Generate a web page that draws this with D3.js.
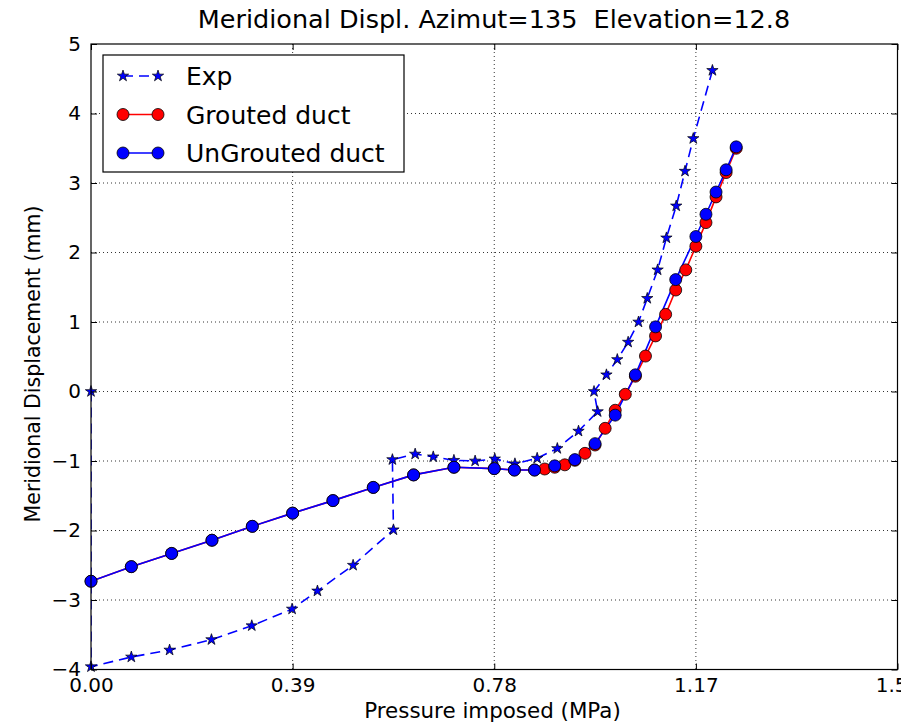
<!DOCTYPE html>
<html lang="en">
<head>
    <meta charset="UTF-8">
    <title>Meridional Displ.</title>
    <script src="https://d3js.org/d3.v7.min.js"></script>
    <style>
        body { margin: 0; background: #fff; }
        svg { display: block; }
        text { font-family: "DejaVu Sans", sans-serif; fill: #000; }
    </style>
</head>
<body>
<svg width="901" height="724"></svg>
<script>
    // experimental curve
    const expX = [0, 0, 0.078, 0.152, 0.233, 0.311, 0.389, 0.438, 0.507, 0.585, 0.583, 0.627, 0.662,
        0.702, 0.743, 0.781, 0.82, 0.863, 0.902, 0.943, 0.98, 0.973, 0.997, 1.018, 1.039, 1.059,
        1.076, 1.096, 1.113, 1.132, 1.149, 1.165, 1.202];
    const expY = [0, -3.96, -3.82, -3.72, -3.57, -3.37, -3.13, -2.87, -2.50, -1.99, -0.98, -0.90, -0.94,
        -0.99, -1.00, -0.97, -1.04, -0.96, -0.82, -0.57, -0.29, 0.00, 0.24, 0.46, 0.71, 1.00,
        1.34, 1.75, 2.21, 2.67, 3.17, 3.64, 4.62];

    // grouted duct model
    const groutX = [0, 0.078, 0.156, 0.234, 0.312, 0.39, 0.468, 0.546, 0.624, 0.702, 0.78, 0.819, 0.858,
        0.8775, 0.897, 0.9165, 0.936, 0.9555, 0.975, 0.9945, 1.014, 1.0335, 1.053, 1.0725, 1.092,
        1.1115, 1.131, 1.1505, 1.17, 1.1895, 1.209, 1.2285, 1.248];
    const groutY = [-2.73, -2.52, -2.33, -2.14, -1.94, -1.75, -1.57, -1.38, -1.20, -1.09, -1.11, -1.13, -1.13,
        -1.115, -1.09, -1.055, -0.99, -0.89, -0.77, -0.53, -0.27, -0.04, 0.22, 0.51, 0.80,
        1.11, 1.46, 1.75, 2.09, 2.43, 2.80, 3.15, 3.50];

    // ungrouted duct model
    const ungroutX = [0, 0.078, 0.156, 0.234, 0.312, 0.39, 0.468, 0.546, 0.624, 0.702, 0.78, 0.819, 0.858,
        0.897, 0.936, 0.975, 1.014, 1.053, 1.092, 1.131, 1.17, 1.1895, 1.209, 1.2285, 1.248];
    const ungroutY = [-2.73, -2.52, -2.33, -2.14, -1.94, -1.75, -1.57, -1.38, -1.20, -1.09, -1.11, -1.13, -1.13,
        -1.07, -0.98, -0.75, -0.34, 0.24, 0.93, 1.61, 2.23, 2.55, 2.87, 3.19, 3.52];

    const xTicks = [0, 0.39, 0.78, 1.17, 1.56];
    const yTicks = [-4, -3, -2, -1, 0, 1, 2, 3, 4, 5];

    const svg = d3.select("svg");
    const mLeft = 91, mRight = 897.5, mTop = 44, mBottom = 669.5;

    const x = d3.scaleLinear().domain([0, 1.56]).range([mLeft, mRight]);
    const y = d3.scaleLinear().domain([-4, 5]).range([mBottom, mTop]);

    svg.append("clipPath").attr("id", "plot")
        .append("rect").attr("x", mLeft).attr("y", mTop)
        .attr("width", mRight - mLeft).attr("height", mBottom - mTop);

    // grid
    const grid = svg.append("g").attr("stroke", "#000").attr("stroke-width", 0.8)
        .attr("stroke-dasharray", "1,3");
    grid.selectAll(".gx").data(xTicks.slice(1, -1)).enter().append("line")
        .attr("x1", d => x(d)).attr("x2", d => x(d)).attr("y1", mTop).attr("y2", mBottom);
    grid.selectAll(".gy").data(yTicks.slice(1, -1)).enter().append("line")
        .attr("y1", d => y(d)).attr("y2", d => y(d)).attr("x1", mLeft).attr("x2", mRight);

    const plot = svg.append("g").attr("clip-path", "url(#plot)");
    const line = d3.line().x(d => x(d[0])).y(d => y(d[1]));

    function drawSeries(xs, ys, color, dash, marker) {
        const pts = xs.map((v, i) => [v, ys[i]]);
        plot.append("path").datum(pts)
            .attr("d", line).attr("fill", "none")
            .attr("stroke", color).attr("stroke-width", 1.6)
            .attr("stroke-dasharray", dash);
        const g = svg.append("g");
        if (marker === "star") {
            g.selectAll("path").data(pts).enter().append("path")
                .attr("d", d3.symbol().type(d3.symbolStar).size(40))
                .attr("transform", d => `translate(${x(d[0])},${y(d[1])})`)
                .attr("fill", color).attr("stroke", "#000").attr("stroke-width", 0.7);
        } else {
            g.selectAll("circle").data(pts).enter().append("circle")
                .attr("cx", d => x(d[0])).attr("cy", d => y(d[1])).attr("r", 6)
                .attr("fill", color).attr("stroke", "#000").attr("stroke-width", 0.8);
        }
    }

    drawSeries(expX, expY, "#0000ff", "10,6", "star");
    drawSeries(groutX, groutY, "#ff0000", null, "circle");
    drawSeries(ungroutX, ungroutY, "#0000ff", null, "circle");

    // frame + ticks (inside, all four sides)
    svg.append("rect").attr("x", mLeft).attr("y", mTop)
        .attr("width", mRight - mLeft).attr("height", mBottom - mTop)
        .attr("fill", "none").attr("stroke", "#000").attr("stroke-width", 1.2);

    const axB = svg.append("g").attr("transform", `translate(0,${mBottom})`)
        .call(d3.axisBottom(x).tickValues(xTicks).tickFormat(d3.format(".2f")).tickSizeInner(-6).tickSizeOuter(0).tickPadding(8));
    const axT = svg.append("g").attr("transform", `translate(0,${mTop})`)
        .call(d3.axisTop(x).tickValues(xTicks).tickFormat("").tickSizeInner(-6).tickSizeOuter(0));
    const axL = svg.append("g").attr("transform", `translate(${mLeft},0)`)
        .call(d3.axisLeft(y).tickValues(yTicks).tickFormat(d => d < 0 ? "\u2212" + Math.abs(d) : d).tickSizeInner(-6).tickSizeOuter(0).tickPadding(10));
    const axR = svg.append("g").attr("transform", `translate(${mRight},0)`)
        .call(d3.axisRight(y).tickValues(yTicks).tickFormat("").tickSizeInner(-6).tickSizeOuter(0));
    [axB, axT, axL, axR].forEach(a => {
        a.select(".domain").remove();
        a.selectAll("line").attr("stroke", "#000");
        a.attr("font-family", null);
        a.selectAll("text").style("font-size", "20px");
    });

    // titles
    svg.append("text").attr("x", 494).attr("y", 28)
        .attr("text-anchor", "middle").style("font-size", "25.5px").style("white-space", "pre")
        .text("Meridional Displ. Azimut=135  Elevation=12.8");
    svg.append("text").attr("x", 492.5).attr("y", 718)
        .attr("text-anchor", "middle").style("font-size", "21.4px")
        .text("Pressure imposed (MPa)");
    svg.append("text").attr("transform", "translate(40,364) rotate(-90)")
        .attr("text-anchor", "middle").style("font-size", "20.5px")
        .text("Meridional Displacement (mm)");

    // legend
    const legend = svg.append("g");
    legend.append("rect").attr("x", 103).attr("y", 55).attr("width", 301).attr("height", 117)
        .attr("fill", "#fff").attr("stroke", "#000").attr("stroke-width", 1.2);
    const entries = [
        { label: "Exp", color: "#0000ff", dash: "10,6", marker: "star" },
        { label: "Grouted duct", color: "#ff0000", dash: null, marker: "circle" },
        { label: "UnGrouted duct", color: "#0000ff", dash: null, marker: "circle" }
    ];
    entries.forEach((e, i) => {
        const cy = 76 + i * 38.5;
        legend.append("line").attr("x1", 123).attr("x2", 158).attr("y1", cy).attr("y2", cy)
            .attr("stroke", e.color).attr("stroke-width", 1.6).attr("stroke-dasharray", e.dash);
        [123, 158].forEach(cx => {
            if (e.marker === "star") {
                legend.append("path").attr("d", d3.symbol().type(d3.symbolStar).size(40))
                    .attr("transform", `translate(${cx},${cy})`)
                    .attr("fill", e.color).attr("stroke", "#000").attr("stroke-width", 0.7);
            } else {
                legend.append("circle").attr("cx", cx).attr("cy", cy).attr("r", 6)
                    .attr("fill", e.color).attr("stroke", "#000").attr("stroke-width", 0.8);
            }
        });
        legend.append("text").attr("x", 186).attr("y", cy + 9).style("font-size", "25px").text(e.label);
    });
</script>
</body>
</html>
